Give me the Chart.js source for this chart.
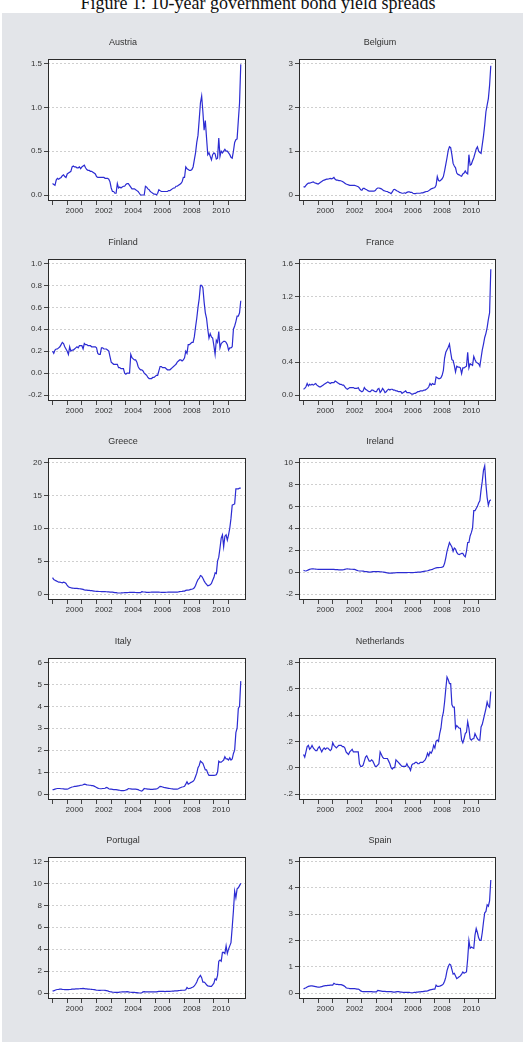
<!DOCTYPE html>
<html><head><meta charset="utf-8">
<script src="https://cdn.jsdelivr.net/npm/chart.js@4.4.0/dist/chart.umd.min.js"></script>
<style>
html,body{margin:0;padding:0;background:#fff;width:528px;height:1060px;overflow:hidden;position:relative;}
#title{position:absolute;left:0;width:516px;top:-6px;text-align:center;font-family:'Liberation Serif','Times New Roman',serif;font-size:18px;line-height:18px;color:#111;white-space:nowrap;}
#panel{position:absolute;left:2px;top:12.5px;width:521px;height:1029px;background:#e3e5e9;}
canvas{position:absolute;}
</style></head><body>
<div id="title">Figure 1: 10-year government bond yield spreads</div>
<div id="panel"></div>
<script>
// Monthly observations, 1999:01 - 2011:11
const startYear = 1999;
const countries = ['Austria','Belgium','Finland','France','Greece','Ireland','Italy','Netherlands','Portugal','Spain'];

const austria = [
0.13,0.12,0.11,0.17,0.19,0.18,0.19,0.2,0.22,0.23,0.21,0.2,
0.24,0.25,0.26,0.27,0.32,0.33,0.32,0.32,0.31,0.31,0.32,0.3,
0.32,0.33,0.34,0.31,0.29,0.28,0.28,0.27,0.27,0.26,0.25,0.24,
0.21,0.2,0.2,0.2,0.2,0.2,0.2,0.19,0.19,0.19,0.18,0.15,
0.08,0.04,0.04,0.02,0.02,0.13,0.08,0.09,0.08,0.09,0.1,0.1,
0.12,0.13,0.13,0.11,0.09,0.07,0.07,0.07,0.06,0.05,0.04,0.02,
0.0,0.0,0.0,0.0,0.1,0.09,0.07,0.06,0.04,0.03,0.02,0.01,
0.01,0.0,0.02,0.06,0.05,0.04,0.04,0.04,0.04,0.04,0.04,0.05,
0.05,0.06,0.07,0.08,0.08,0.1,0.1,0.11,0.12,0.13,0.15,0.2,
0.2,0.32,0.3,0.29,0.28,0.28,0.29,0.32,0.4,0.48,0.6,0.68,
0.86,1.05,1.13,0.95,0.74,0.85,0.65,0.46,0.48,0.44,0.4,0.46,
0.48,0.47,0.41,0.42,0.65,0.44,0.5,0.48,0.5,0.52,0.5,0.5,
0.48,0.46,0.43,0.42,0.5,0.6,0.63,0.64,0.85,1.05,1.49];

const belgium = [
0.19,0.18,0.22,0.25,0.27,0.27,0.28,0.29,0.3,0.28,0.27,0.26,
0.25,0.27,0.29,0.31,0.33,0.34,0.35,0.36,0.36,0.37,0.38,0.37,
0.38,0.4,0.36,0.34,0.34,0.33,0.33,0.32,0.31,0.29,0.27,0.25,
0.24,0.23,0.22,0.22,0.22,0.22,0.22,0.21,0.2,0.19,0.16,0.12,
0.11,0.15,0.15,0.13,0.12,0.1,0.09,0.09,0.09,0.09,0.09,0.1,
0.14,0.16,0.16,0.15,0.14,0.12,0.1,0.09,0.08,0.08,0.06,0.05,
0.03,0.07,0.12,0.13,0.11,0.09,0.08,0.06,0.05,0.04,0.04,0.05,
0.04,0.06,0.07,0.07,0.06,0.06,0.04,0.03,0.03,0.04,0.04,0.04,
0.04,0.05,0.05,0.06,0.07,0.08,0.08,0.1,0.12,0.14,0.15,0.16,
0.17,0.22,0.42,0.33,0.32,0.34,0.37,0.42,0.55,0.7,0.85,1.02,
1.1,1.08,0.92,0.72,0.66,0.62,0.5,0.47,0.46,0.44,0.43,0.48,
0.5,0.55,0.5,0.48,0.92,0.68,0.7,0.78,0.85,0.95,1.05,1.1,
1.0,0.97,0.95,1.15,1.35,1.6,1.9,2.05,2.2,2.5,2.95];

const finland = [
0.2,0.18,0.21,0.22,0.22,0.23,0.24,0.26,0.28,0.27,0.24,0.22,
0.2,0.17,0.24,0.2,0.21,0.21,0.22,0.23,0.24,0.23,0.25,0.25,
0.25,0.22,0.27,0.26,0.26,0.25,0.25,0.25,0.24,0.24,0.24,0.24,
0.23,0.18,0.17,0.17,0.23,0.23,0.22,0.22,0.22,0.21,0.2,0.15,
0.1,0.09,0.08,0.08,0.08,0.08,0.05,0.05,0.04,0.04,0.04,0.0,
-0.01,0.0,0.0,0.0,0.17,0.14,0.13,0.12,0.12,0.1,0.06,0.04,
0.03,0.03,0.02,0.0,-0.01,-0.02,-0.04,-0.05,-0.05,-0.05,-0.04,-0.04,
-0.03,-0.02,-0.02,0.02,0.06,0.06,0.05,0.05,0.05,0.04,0.03,0.03,
0.03,0.04,0.05,0.06,0.07,0.08,0.1,0.11,0.12,0.12,0.11,0.12,
0.14,0.2,0.18,0.26,0.26,0.27,0.28,0.28,0.33,0.42,0.5,0.6,
0.68,0.8,0.8,0.78,0.65,0.55,0.5,0.4,0.32,0.36,0.33,0.32,
0.25,0.17,0.3,0.28,0.38,0.23,0.27,0.28,0.29,0.29,0.28,0.26,
0.21,0.23,0.23,0.24,0.4,0.43,0.47,0.52,0.52,0.55,0.66];

const france = [
0.07,0.08,0.1,0.14,0.11,0.13,0.12,0.13,0.12,0.13,0.14,0.12,
0.11,0.1,0.1,0.11,0.12,0.13,0.14,0.15,0.16,0.15,0.14,0.15,
0.15,0.15,0.17,0.16,0.15,0.14,0.13,0.13,0.12,0.12,0.1,0.08,
0.07,0.08,0.09,0.09,0.09,0.09,0.08,0.08,0.08,0.09,0.06,0.05,
0.04,0.05,0.09,0.07,0.06,0.05,0.04,0.04,0.06,0.06,0.05,0.04,
0.04,0.07,0.08,0.03,0.05,0.08,0.06,0.03,0.04,0.06,0.07,0.06,
0.07,0.07,0.06,0.06,0.05,0.05,0.04,0.04,0.04,0.02,0.03,0.04,
0.05,0.03,0.03,0.03,0.02,0.01,0.01,0.02,0.02,0.03,0.04,0.04,
0.05,0.05,0.05,0.06,0.06,0.07,0.08,0.1,0.14,0.12,0.14,0.13,
0.13,0.22,0.21,0.2,0.2,0.21,0.24,0.3,0.45,0.52,0.55,0.58,
0.62,0.52,0.43,0.42,0.36,0.28,0.35,0.34,0.34,0.33,0.26,0.33,
0.33,0.34,0.35,0.52,0.33,0.38,0.37,0.36,0.47,0.43,0.4,0.39,
0.38,0.35,0.45,0.55,0.62,0.7,0.75,0.82,0.92,1.0,1.53];

const greece = [
2.5,2.2,2.1,2.0,1.9,1.8,1.8,1.75,1.7,1.8,1.75,1.6,
1.3,1.1,1.0,0.95,0.9,0.88,0.87,0.86,0.85,0.83,0.8,0.78,
0.75,0.7,0.62,0.6,0.58,0.55,0.54,0.52,0.5,0.48,0.45,0.42,
0.4,0.4,0.38,0.38,0.37,0.36,0.35,0.35,0.34,0.33,0.32,0.3,
0.3,0.28,0.25,0.22,0.2,0.16,0.15,0.15,0.16,0.18,0.19,0.2,
0.2,0.22,0.23,0.25,0.26,0.25,0.25,0.24,0.23,0.22,0.21,0.2,
0.2,0.35,0.32,0.3,0.28,0.25,0.25,0.26,0.27,0.28,0.28,0.3,
0.3,0.3,0.29,0.28,0.27,0.26,0.25,0.25,0.26,0.27,0.28,0.3,
0.3,0.3,0.3,0.29,0.29,0.3,0.3,0.32,0.35,0.38,0.4,0.43,
0.45,0.55,0.6,0.6,0.62,0.7,0.72,0.8,0.95,1.3,1.8,2.2,
2.4,2.8,2.7,2.4,2.0,1.7,1.45,1.25,1.3,1.4,1.6,2.1,
2.5,3.2,3.1,5.0,5.6,7.0,8.5,9.0,7.2,8.8,9.0,8.2,
9.0,10.0,11.5,13.5,13.6,13.7,16.0,16.0,16.0,16.1,16.1];

const ireland = [
0.15,0.12,0.1,0.15,0.2,0.25,0.28,0.3,0.3,0.28,0.27,0.26,
0.25,0.25,0.24,0.25,0.26,0.25,0.25,0.24,0.25,0.26,0.25,0.25,
0.25,0.24,0.23,0.22,0.22,0.2,0.2,0.2,0.2,0.22,0.25,0.28,
0.3,0.28,0.27,0.26,0.26,0.25,0.24,0.2,0.15,0.12,0.1,0.1,
0.1,0.08,0.06,0.05,0.04,0.02,0.0,0.0,0.02,0.04,0.05,0.05,
0.05,0.05,0.04,0.03,0.02,0.01,0.0,-0.02,-0.05,-0.08,-0.1,-0.1,
-0.1,-0.1,-0.08,-0.08,-0.06,-0.05,-0.05,-0.05,-0.05,-0.05,-0.05,-0.05,
-0.05,-0.05,-0.04,-0.04,-0.05,-0.05,-0.05,-0.04,-0.03,-0.02,-0.01,0.0,
0.0,0.02,0.04,0.06,0.08,0.1,0.12,0.15,0.2,0.22,0.25,0.3,
0.35,0.38,0.4,0.4,0.42,0.43,0.45,0.5,0.8,1.3,1.9,2.3,
2.7,2.5,2.3,1.9,2.2,2.1,1.8,1.65,1.6,1.65,1.7,1.7,
1.5,1.4,1.9,2.7,2.7,3.3,3.6,4.0,5.6,5.6,5.8,6.0,
6.3,6.5,7.5,8.3,9.3,9.7,8.0,6.8,6.1,6.5,6.6];

const italy = [
0.2,0.2,0.22,0.24,0.25,0.25,0.25,0.24,0.24,0.23,0.22,0.22,
0.22,0.24,0.27,0.3,0.32,0.33,0.35,0.35,0.36,0.37,0.38,0.4,
0.4,0.42,0.45,0.44,0.42,0.41,0.4,0.4,0.38,0.38,0.36,0.33,
0.3,0.27,0.25,0.24,0.24,0.25,0.25,0.26,0.3,0.28,0.24,0.22,
0.22,0.21,0.2,0.2,0.2,0.19,0.18,0.17,0.15,0.15,0.15,0.16,
0.18,0.2,0.25,0.24,0.23,0.22,0.22,0.22,0.22,0.21,0.2,0.17,
0.15,0.13,0.18,0.25,0.24,0.23,0.22,0.22,0.21,0.21,0.21,0.22,
0.22,0.23,0.25,0.3,0.35,0.34,0.32,0.3,0.29,0.28,0.27,0.26,
0.25,0.24,0.23,0.22,0.22,0.22,0.22,0.24,0.27,0.3,0.32,0.33,
0.35,0.45,0.56,0.45,0.48,0.52,0.55,0.58,0.65,0.8,0.95,1.2,
1.3,1.5,1.45,1.4,1.25,1.1,1.1,0.95,0.85,0.85,0.85,0.85,
0.85,0.86,0.88,1.0,1.5,1.45,1.45,1.5,1.55,1.7,1.6,1.6,
1.55,1.65,1.55,1.6,1.85,2.0,2.8,3.0,3.9,4.0,5.15];

const netherlands = [
0.1,0.08,0.12,0.16,0.17,0.14,0.15,0.17,0.15,0.14,0.13,0.13,
0.15,0.16,0.14,0.12,0.14,0.15,0.14,0.15,0.15,0.14,0.13,0.14,
0.19,0.17,0.16,0.15,0.16,0.17,0.17,0.17,0.16,0.16,0.15,0.12,
0.11,0.1,0.12,0.13,0.14,0.12,0.12,0.12,0.12,0.12,0.03,0.01,
0.01,0.02,0.05,0.08,0.09,0.07,0.05,0.05,0.06,0.05,0.03,0.01,
0.01,0.02,0.03,0.12,0.1,0.08,0.07,0.07,0.07,0.07,0.05,0.03,
0.0,-0.01,0.0,0.0,0.06,0.05,0.04,0.03,0.02,0.01,0.01,0.01,
0.01,0.03,0.01,0.0,-0.02,0.02,0.03,0.03,0.04,0.04,0.03,0.03,
0.04,0.04,0.04,0.05,0.06,0.08,0.11,0.09,0.12,0.11,0.13,0.17,
0.15,0.2,0.21,0.2,0.26,0.3,0.38,0.42,0.5,0.6,0.69,0.67,
0.64,0.64,0.48,0.46,0.46,0.3,0.32,0.31,0.3,0.3,0.21,0.19,
0.22,0.26,0.27,0.35,0.3,0.22,0.21,0.22,0.22,0.26,0.24,0.22,
0.21,0.21,0.31,0.33,0.37,0.41,0.45,0.5,0.47,0.46,0.58];

const portugal = [
0.2,0.2,0.25,0.3,0.32,0.33,0.35,0.35,0.33,0.32,0.3,0.3,
0.3,0.3,0.32,0.33,0.35,0.35,0.36,0.37,0.38,0.38,0.39,0.4,
0.4,0.42,0.4,0.38,0.37,0.35,0.35,0.34,0.33,0.32,0.3,0.28,
0.25,0.25,0.24,0.24,0.25,0.25,0.25,0.24,0.22,0.2,0.15,0.12,
0.1,0.08,0.07,0.06,0.05,0.05,0.06,0.08,0.09,0.1,0.1,0.1,
0.1,0.12,0.1,0.08,0.07,0.06,0.05,0.05,0.04,0.03,0.02,0.0,
0.0,0.02,0.1,0.12,0.11,0.1,0.1,0.1,0.1,0.1,0.1,0.1,
0.1,0.1,0.12,0.14,0.15,0.15,0.15,0.14,0.13,0.14,0.15,0.15,
0.15,0.16,0.17,0.18,0.19,0.2,0.2,0.22,0.23,0.24,0.25,0.25,
0.25,0.3,0.5,0.4,0.42,0.45,0.5,0.55,0.65,0.8,1.0,1.3,
1.45,1.6,1.4,1.0,1.0,0.9,0.75,0.65,0.62,0.6,0.6,0.75,
0.9,1.3,1.2,1.6,2.9,3.0,2.9,3.7,3.7,3.6,4.3,3.6,
4.0,4.3,4.6,6.0,7.5,9.3,8.7,9.5,9.6,9.8,10.0];

const spain = [
0.15,0.18,0.2,0.23,0.25,0.26,0.27,0.27,0.26,0.25,0.24,0.23,
0.22,0.22,0.23,0.24,0.26,0.27,0.28,0.28,0.29,0.29,0.3,0.3,
0.3,0.37,0.34,0.33,0.33,0.32,0.32,0.32,0.3,0.28,0.25,0.2,
0.18,0.18,0.17,0.17,0.17,0.17,0.17,0.16,0.15,0.15,0.12,0.08,
0.06,0.05,0.05,0.05,0.05,0.05,0.05,0.05,0.05,0.04,0.04,0.04,
0.04,0.1,0.09,0.08,0.07,0.06,0.06,0.06,0.05,0.05,0.05,0.05,
0.05,0.04,0.03,0.03,0.04,0.05,0.05,0.04,0.03,0.03,0.02,0.02,
0.02,0.02,0.02,0.02,0.01,0.01,0.01,0.02,0.02,0.03,0.03,0.04,
0.04,0.05,0.05,0.06,0.07,0.07,0.08,0.1,0.12,0.13,0.14,0.15,
0.15,0.3,0.25,0.25,0.26,0.28,0.3,0.35,0.45,0.6,0.85,1.0,
1.1,1.07,0.9,0.72,0.75,0.65,0.55,0.58,0.62,0.65,0.72,0.8,
0.75,0.78,0.8,1.3,2.0,1.7,1.75,1.72,1.7,2.2,2.45,2.3,
2.1,2.0,2.0,2.3,2.7,3.05,3.1,3.35,3.3,3.5,4.3];

// y-axis tick values per panel
const ticksAustria = [0, 0.5, 1.0, 1.5];
const ticksBelgium = [0, 1, 2, 3];
const ticksFinland = [-0.2, 0, 0.2, 0.4, 0.6, 0.8, 1.0];
const ticksFrance = [0, 0.4, 0.8, 1.2, 1.6];
const ticksGreece = [0, 5, 10, 15, 20];
const ticksIreland = [-2, 0, 2, 4, 6, 8, 10];
const ticksItaly = [0, 1, 2, 3, 4, 5, 6];
const ticksNetherlands = [-0.2, 0, 0.2, 0.4, 0.6, 0.8];
const ticksPortugal = [0, 2, 4, 6, 8, 10, 12];
const ticksSpain = [0, 1, 2, 3, 4, 5];
const yearTicks = [1999,2000,2001,2002,2003,2004,2005,2006,2007,2008,2009,2010,2011];
const yearLabels = ['2000','2002','2004','2006','2008','2010'];

const series = [austria, belgium, finland, france, greece, ireland, italy, netherlands, portugal, spain];
const yTicks = [ticksAustria, ticksBelgium, ticksFinland, ticksFrance, ticksGreece, ticksIreland, ticksItaly, ticksNetherlands, ticksPortugal, ticksSpain];
const decimals = [1,0,1,1,0,0,0,1,0,0];
const noLeadZero = [false,false,false,false,false,false,false,true,false,false];

Chart.defaults.font.family = "'Liberation Sans', Arial, sans-serif";
Chart.defaults.color = '#333';

const framePlugin = {
  id: 'frame',
  beforeDraw(chart) {
    const {ctx, chartArea: a} = chart;
    ctx.save();
    ctx.fillStyle = '#ffffff';
    ctx.fillRect(a.left, a.top, a.width, a.height);
    ctx.restore();
  },
  afterDraw(chart) {
    const {ctx, chartArea: a} = chart;
    ctx.save();
    ctx.strokeStyle = '#2a2a2a';
    ctx.lineWidth = 1;
    ctx.strokeRect(Math.round(a.left) + 0.5, Math.round(a.top) + 0.5, Math.round(a.width) - 1, Math.round(a.height) - 1);
    ctx.restore();
  }
};

const colLeft = [0, 264];
const yAxisW = [48, 35];
const padRight = [18, 32];
const rowTop = [24, 224, 423, 623, 822];
const CW = 264, CH = 197;

function fmt(v, i) {
  let s = Number(v).toFixed(decimals[i]);
  if (noLeadZero[i]) s = s.replace(/^(-?)0\./, '$1.');
  return s;
}

countries.forEach((name, i) => {
  const col = i % 2, row = Math.floor(i / 2);
  const cv = document.createElement('canvas');
  cv.width = CW; cv.height = CH;
  cv.style.left = colLeft[col] + 'px';
  cv.style.top = rowTop[row] + 'px';
  cv.style.width = CW + 'px'; cv.style.height = CH + 'px';
  document.body.appendChild(cv);
  const tk = yTicks[i];
  const lo = tk[0], hi = tk[tk.length - 1];
  const ppu = 131.5 / (hi - lo);
  const pts = series[i].map((v, k) => ({x: startYear + k / 12, y: v}));
  new Chart(cv, {
    type: 'line',
    data: { datasets: [{ data: pts, borderColor: '#2c2cd2', borderWidth: 1.2, pointRadius: 0, tension: 0, fill: false }] },
    options: {
      responsive: false, animation: false, devicePixelRatio: 1,
      layout: { padding: { left: 0, right: padRight[col], top: 0, bottom: 0 } },
      plugins: {
        legend: { display: false }, tooltip: { enabled: false },
        title: { display: true, text: name, color: '#333', font: { size: 9, weight: 'normal', lineHeight: 1.2 }, padding: { top: 13, bottom: 11.2 } }
      },
      scales: {
        x: {
          type: 'linear', min: 1998.69, max: 2012.19,
          afterBuildTicks: s => { s.ticks = yearTicks.map(v => ({value: v})); },
          afterFit: s => { s.height = 20; },
          ticks: { autoSkip: false, maxRotation: 0, includeBounds: false, padding: 1, labelOffset: 7.3, font: { size: 8 }, color: '#333',
                   callback: v => yearLabels.includes(String(v)) ? String(v) : '' },
          grid: { drawOnChartArea: false, drawTicks: true, tickLength: 4, tickColor: '#444', tickWidth: 1 },
          border: { display: false }
        },
        y: {
          type: 'linear', min: lo - 6 / ppu, max: hi + 4.5 / ppu,
          afterBuildTicks: s => { s.ticks = tk.map(v => ({value: v})); },
          afterFit: s => { s.width = yAxisW[col]; },
          ticks: { padding: 2, font: { size: 8 }, color: '#333', callback: v => fmt(v, i) },
          grid: { drawOnChartArea: true, color: '#cfcfcf', lineWidth: 1, drawTicks: true, tickLength: 4, tickColor: '#444', tickWidth: 1, tickBorderDash: [] },
          border: { display: false, dash: [2, 2] }
        }
      }
    },
    plugins: [framePlugin]
  });
});
</script>
</body></html>
